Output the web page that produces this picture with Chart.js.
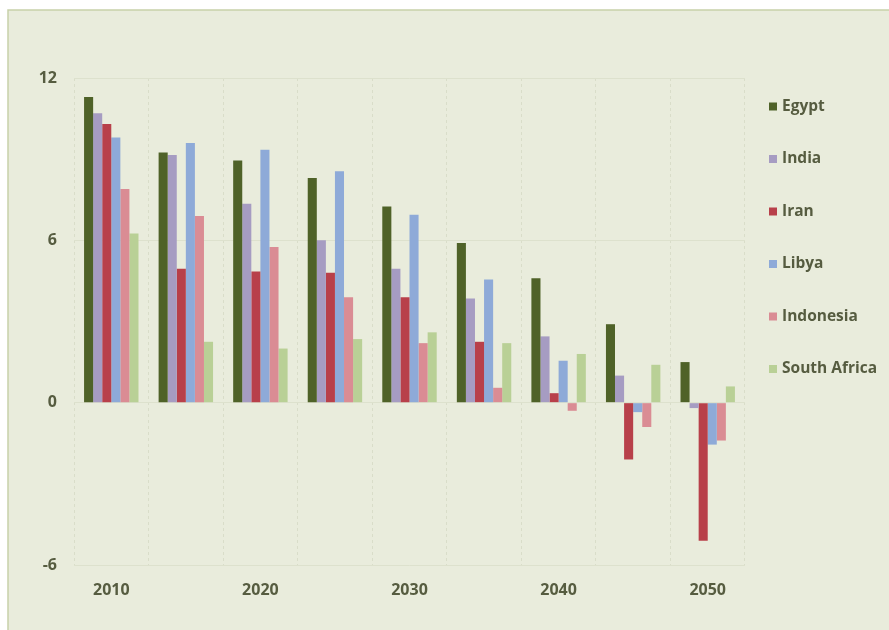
<!DOCTYPE html>
<html>
<head>
<meta charset="utf-8">
<script src="https://cdn.jsdelivr.net/npm/chart.js@4/dist/chart.umd.min.js"></script>
<style>
  html, body { margin: 0; padding: 0; background: #ffffff; }
  #wrap { width: 889px; height: 630px; position: relative; }
</style>
</head>
<body>
<div id="wrap"><canvas id="chart" width="889" height="630"></canvas></div>
<script>
// categories and series
const years = ['2010', '2015', '2020', '2025', '2030', '2035', '2040', '2045', '2050'];
const egypt = [11.3, 9.25, 8.95, 8.3, 7.25, 5.9, 4.6, 2.9, 1.5];
const india = [10.7, 9.15, 7.35, 6.0, 4.95, 3.85, 2.45, 1.0, -0.2];
const iran = [10.3, 4.95, 4.85, 4.8, 3.9, 2.25, 0.35, -2.1, -5.1];
const libya = [9.8, 9.6, 9.35, 8.55, 6.95, 4.55, 1.55, -0.35, -1.55];
const indonesia = [7.9, 6.9, 5.75, 3.9, 2.2, 0.55, -0.3, -0.9, -1.4];
const southAfrica = [6.25, 2.25, 2.0, 2.35, 2.6, 2.2, 1.8, 1.4, 0.6];
const yTicks = [-6, 0, 6, 12];

const seriesNames = ['Egypt', 'India', 'Iran', 'Libya', 'Indonesia', 'South Africa'];
const seriesColors = ['#4f6228', '#a69cc2', '#b8404a', '#8eaad8', '#da8c94', '#b9d096'];
const seriesData = [egypt, india, iran, libya, indonesia, southAfrica];

const textColor = '#565c40';
const fontFamily = "'Open Sans', 'DejaVu Sans', sans-serif";

// background panel with thin border on top and left
const panel = {
  id: 'panel',
  beforeDraw(chart) {
    const ctx = chart.ctx;
    ctx.save();
    ctx.fillStyle = '#e9ecdc';
    ctx.fillRect(8, 10, chart.width - 8, chart.height - 10);
    ctx.strokeStyle = '#c7d1a9';
    ctx.lineWidth = 1.5;
    ctx.beginPath();
    ctx.moveTo(8, chart.height);
    ctx.lineTo(8, 10);
    ctx.lineTo(chart.width, 10);
    ctx.stroke();
    ctx.restore();
  }
};

// legend drawn as a single column on the right
const sideLegend = {
  id: 'sideLegend',
  afterDraw(chart) {
    const ctx = chart.ctx;
    ctx.save();
    ctx.font = 'bold 15.5px ' + fontFamily;
    ctx.textBaseline = 'middle';
    chart.data.datasets.forEach((ds, i) => {
      const y = 106.5 + i * 52.5;
      ctx.fillStyle = ds.backgroundColor;
      ctx.fillRect(769, y - 4, 8, 8);
      ctx.fillStyle = textColor;
      ctx.fillText(ds.label, 782, y);
    });
    ctx.restore();
  }
};

new Chart(document.getElementById('chart'), {
  type: 'bar',
  data: {
    labels: years,
    datasets: seriesNames.map((name, i) => ({
      label: name,
      data: seriesData[i],
      backgroundColor: seriesColors[i],
      borderWidth: 0,
      categoryPercentage: 0.73,
      barPercentage: 1.0
    }))
  },
  options: {
    responsive: false,
    animation: false,
    layout: { padding: { left: 8, right: 144, top: 78, bottom: 10 } },
    plugins: {
      legend: { display: false },
      tooltip: { enabled: false }
    },
    scales: {
      x: {
        afterFit(s) { s.height = 55; },
        grid: {
          offset: true,
          color: '#d9ddc9',
          drawTicks: false
        },
        border: { display: false, dash: [3, 3] },
        ticks: {
          autoSkip: false,
          maxRotation: 0,
          padding: 16,
          color: textColor,
          font: { family: fontFamily, size: 16, weight: 'bold' },
          callback(v, i) { return i % 2 === 0 ? years[i] : ''; }
        }
      },
      y: {
        min: -6,
        max: 12,
        afterFit(s) { s.width = 66; },
        afterBuildTicks(s) { s.ticks = yTicks.map(v => ({ value: v })); },
        grid: { color: '#dde1cd', drawTicks: false },
        border: { display: false },
        ticks: {
          padding: 17,
          color: textColor,
          font: { family: fontFamily, size: 16, weight: 'bold' }
        }
      }
    }
  },
  plugins: [panel, sideLegend]
});
</script>
</body>
</html>
